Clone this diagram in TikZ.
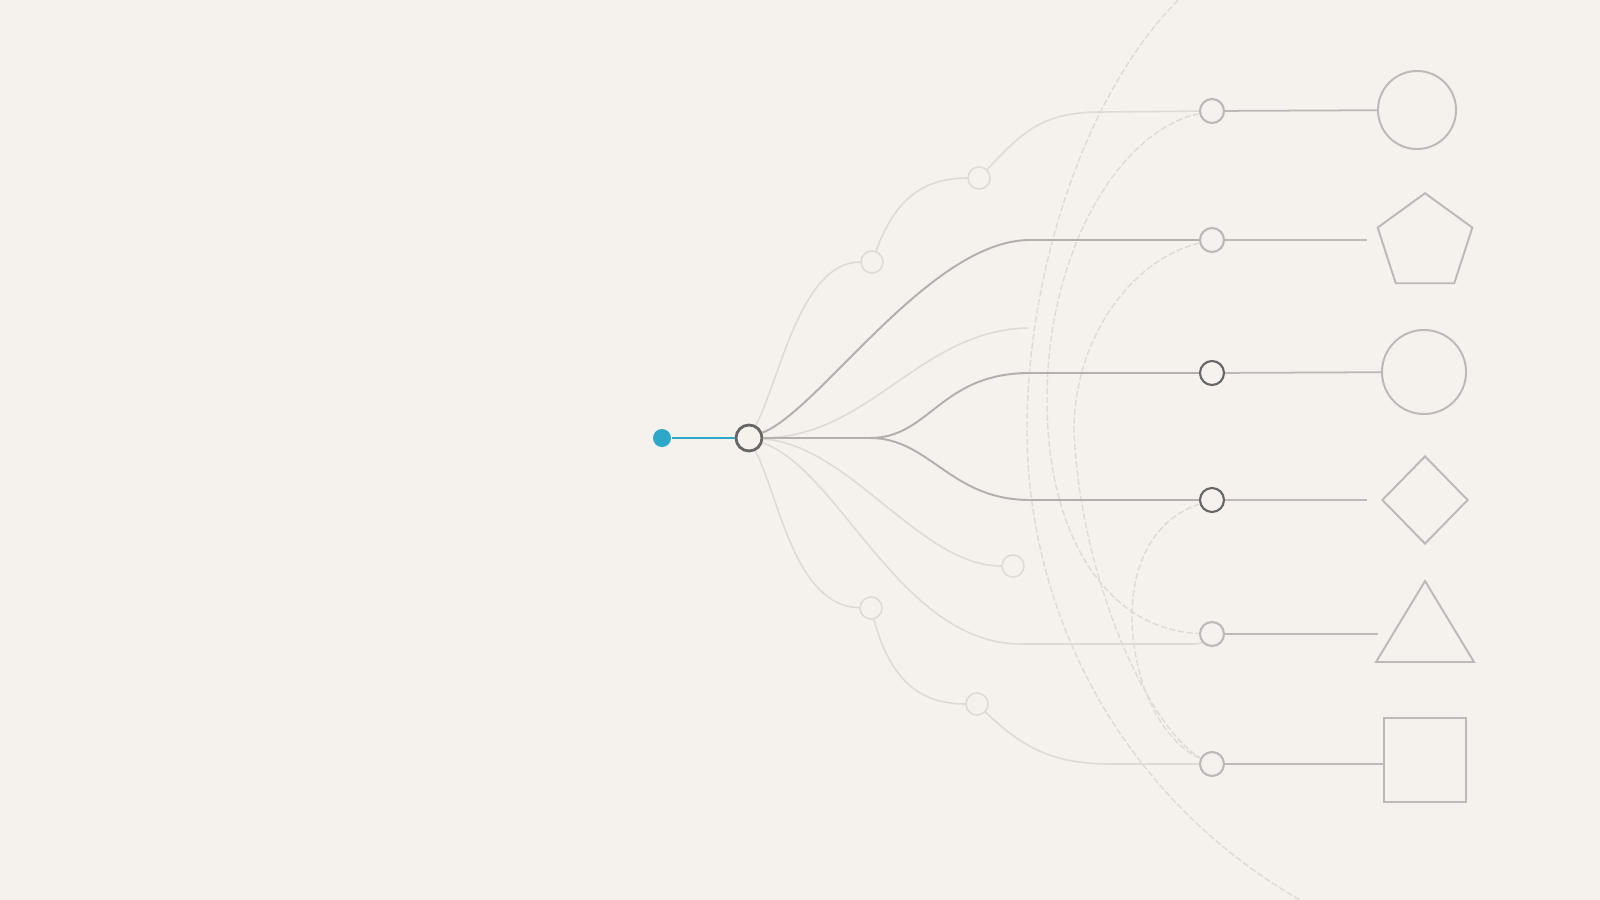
\documentclass[tikz,border=0pt]{standalone}
\usetikzlibrary{shapes.geometric}
\definecolor{paper}{RGB}{245,241,237}
\definecolor{dotblue}{RGB}{46,168,200}
\definecolor{wire}{RGB}{178,175,172}
\definecolor{faint}{RGB}{222,218,214}
\definecolor{ring}{RGB}{188,185,182}
\definecolor{darkring}{RGB}{104,102,100}

\begin{document}
\begin{tikzpicture}[x=0.01cm,y=-0.01cm,
        hub/.style={circle,draw=ring,fill=paper,line width=0.6pt,inner sep=0pt,minimum size=0.24cm},
        ghost/.style={circle,draw=faint,fill=paper,line width=0.45pt,inner sep=0pt,minimum size=0.22cm},
        wire/.style={draw=wire,line width=0.55pt},
        faintwire/.style={draw=faint,line width=0.45pt},
        trail/.style={draw=faint,line width=0.4pt,dash pattern=on 1.8pt off 0.7pt},
        outline/.style={draw=ring,line width=0.55pt,inner sep=0pt}]
        \fill[paper] (0,0) rectangle (1600,900);
        \useasboundingbox (0,0) rectangle (1600,900);

        \node[circle,fill=dotblue,inner sep=0pt,minimum size=0.18cm] (start) at (662,438) {};
        \node[circle,draw=darkring,fill=paper,line width=0.8pt,inner sep=0pt,minimum size=0.26cm] (root) at (749,438) {};
        \draw[dotblue,line width=0.55pt] (start) -- (root);

        \node[hub] (hub1) at (1212,111) {};
        \node[hub] (hub2) at (1212,240) {};
        \node[hub,draw=darkring] (hub3) at (1212,373) {};
        \node[hub,draw=darkring] (hub4) at (1212,500) {};
        \node[hub] (hub5) at (1212,634) {};
        \node[hub] (hub6) at (1212,764) {};

        \node[ghost] (d1) at (872,262) {};
        \node[ghost] (d2) at (979,178) {};
        \node[ghost] (f1) at (1013,566) {};
        \node[ghost] (g1) at (871,608) {};
        \node[ghost] (g2) at (977,704) {};

        \node[outline,circle,minimum size=0.78cm] (circ1) at (1417,110) {};
        \node[outline,regular polygon,regular polygon sides=5,minimum size=0.995cm] (penta) at (1425,243) {};
        \node[outline,circle,minimum size=0.84cm] (circ2) at (1424,372) {};
        \node[outline,diamond,minimum width=0.86cm,minimum height=0.88cm] (rhomb) at (1425,500) {};
        \draw[ring,line width=0.55pt] (1425,581) -- (1474,662) -- (1376,662) -- cycle;
        \node[outline,rectangle,minimum width=0.82cm,minimum height=0.84cm] (sq) at (1425,760) {};

        \coordinate (end2) at (1367,240);
        \coordinate (end4) at (1367,500);
        \coordinate (end5) at (1378,634);

        \draw[trail] (1178,0) .. controls (1080,100) and (1027,280) .. (1027,430)
            .. controls (1027,600) and (1110,790) .. (1300,900);
        \draw[trail] (hub1) .. controls (1120,130) and (1047,250) .. (1047,400)
            .. controls (1047,540) and (1110,630) .. (hub5);
        \draw[trail] (hub2) .. controls (1130,260) and (1074,340) .. (1074,430)
            .. controls (1080,580) and (1150,730) .. (hub6);
        \draw[trail] (hub4) .. controls (1150,520) and (1132,570) .. (1132,615)
            .. controls (1132,680) and (1160,740) .. (hub6);

        \draw[faintwire] (root) .. controls (780,380) and (800,262) .. (d1);
        \draw[faintwire] (d1) .. controls (893,205) and (918,178) .. (d2);
        \draw[faintwire] (d2) .. controls (1020,135) and (1040,112) .. (1100,112) -- (hub1);
        \draw[faintwire] (root) .. controls (870,437) and (920,330) .. (1028,328);
        \draw[faintwire] (root) .. controls (850,445) and (920,566) .. (f1);
        \draw[faintwire] (root) .. controls (780,500) and (795,606) .. (g1);
        \draw[faintwire] (g1) .. controls (890,680) and (920,704) .. (g2);
        \draw[faintwire] (g2) .. controls (1020,745) and (1050,764) .. (1110,764) -- (hub6);
        \draw[faintwire] (root) .. controls (840,470) and (900,643) .. (1020,644)
            -- (1185,644) .. controls (1200,644) .. (hub5);

        \draw[wire] (root) .. controls (820,410) and (930,240) .. (1030,240) -- (hub2);
        \draw[wire] (root) -- (870,438) .. controls (930,438) and (940,373) .. (1030,373) -- (hub3);
        \draw[wire] (870,438) .. controls (930,438) and (950,500) .. (1030,500) -- (hub4);

        \draw[ring,line width=0.5pt] (hub1) -- (circ1);
        \draw[ring,line width=0.5pt] (hub2) -- (end2);
        \draw[ring,line width=0.5pt] (hub3) -- (circ2);
        \draw[ring,line width=0.5pt] (hub4) -- (end4);
        \draw[ring,line width=0.5pt] (hub5) -- (end5);
        \draw[ring,line width=0.5pt] (hub6) -- (hub6 -| sq.west);
\end{tikzpicture}
\end{document}
